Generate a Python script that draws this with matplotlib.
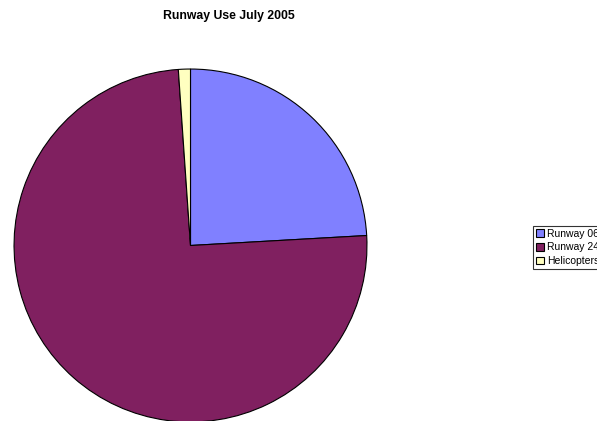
import matplotlib
matplotlib.use("Agg")
import matplotlib.pyplot as plt

# data
labels = ["Runway 06", "Runway 24", "Helicopters"]
values = [24.1, 74.8, 1.1]
colors = ["#8080FF", "#802060", "#FFFFC0"]

plt.rcParams['font.family'] = ['Liberation Sans', 'DejaVu Sans']

fig = plt.figure(figsize=(5.97, 4.21), dpi=100)
fig.patch.set_facecolor("white")

ax = fig.add_axes([13.5 / 597, -1.5 / 421, 354 / 597, 354 / 421])
wedges, _ = ax.pie(values, colors=colors, startangle=90, counterclock=False,
                   wedgeprops=dict(edgecolor="black", linewidth=0.8))
ax.set_xlim(-1.003, 1.003)
ax.set_ylim(-1.003, 1.003)
ax.set_aspect("equal")

fig.text(229 / 597, 1 - 16 / 421, "Runway Use July 2005", ha="center", va="center",
         fontsize=8.8, fontweight="bold")

leg = fig.legend(wedges, labels, loc="upper left", bbox_to_anchor=(533 / 597, 1 - 226 / 421),
                 fontsize=7.5, frameon=True, fancybox=False, handlelength=0.8, handleheight=0.8,
                 handletextpad=0.3, borderpad=0.25, labelspacing=0.36, borderaxespad=0)
leg.get_frame().set_edgecolor("black")
leg.get_frame().set_linewidth(0.8)

fig.savefig("out.png", dpi=100)
